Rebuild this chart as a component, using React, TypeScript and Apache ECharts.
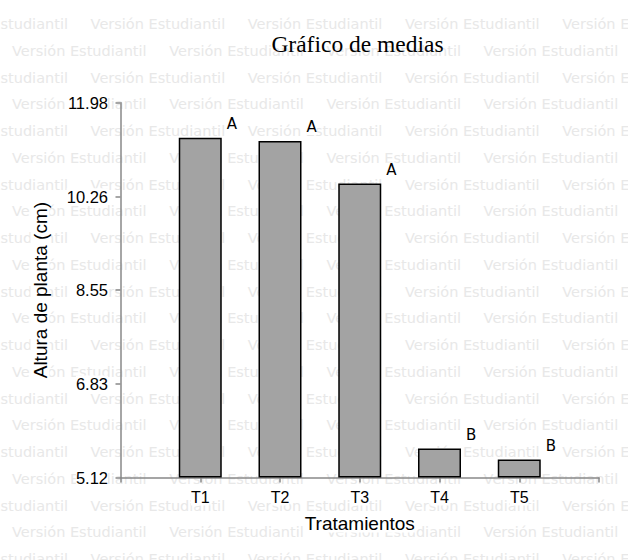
import React, { useEffect, useRef } from "react";
import * as echarts from "echarts";

const CATEGORIES = ["T1", "T2", "T3", "T4", "T5"];
const MEANS = [11.34, 11.28, 10.5, 5.65, 5.45];
const LETTERS = ["A", "A", "A", "B", "B"];
const Y_TICKS = [5.12, 6.83, 8.55, 10.26, 11.98];
const Y_MIN = 5.12;
const Y_MAX = 11.98;
const WATERMARK = "Versión Estudiantil";

function buildWatermark() {
  const items: any[] = [];
  const period = 157.2;
  for (let k = 0; k <= 20; k++) {
    const y = 24 + 26.75 * k;
    const start = k % 2 === 1 ? 12 : 12 - period / 2;
    for (let x = start - period; x < 640; x += period) {
      if (x + 140 < 0) continue;
      items.push({
        text: WATERMARK,
        left: Math.round(x * 10) / 10,
        top: Math.round((y - 8.5) * 10) / 10,
        padding: 0,
        z: -10,
        silent: true,
        textStyle: {
          color: "#e8e8e8",
          fontSize: 14.5,
          lineHeight: 17,
          fontFamily: "DejaVu Sans",
          fontWeight: "normal",
        },
      });
    }
  }
  return items;
}

export default function App() {
  const ref = useRef<HTMLDivElement>(null);
  useEffect(() => {
    document.body.style.margin = "0";
    const chart = echarts.init(ref.current!, null, { renderer: "svg" });
    const xData = ["", ...CATEGORIES, ""];
    const baseData: any[] = ["-", ...CATEGORIES.map(() => Y_MIN), "-"];
    const topData: any[] = ["-", ...MEANS.map((v) => +(v - Y_MIN).toFixed(4)), "-"];
    const sans = "Liberation Sans";
    chart.setOption({
      animation: false,
      backgroundColor: "#ffffff",
      title: [
        ...buildWatermark(),
        {
          text: "Gráfico de medias",
          left: 357.5,
          top: 32,
          textAlign: "center",
          padding: 0,
          z: 10,
          textStyle: {
            fontFamily: "Liberation Serif",
            fontSize: 23.5,
            fontWeight: "normal",
            color: "#000",
            backgroundColor: "#fff",
          },
        },
      ],
      grid: { left: 120.5, right: 29, top: 102.7, bottom: 82.5 },
      xAxis: {
        type: "category",
        data: xData,
        boundaryGap: false,
        name: "Tratamientos",
        nameLocation: "middle",
        nameGap: 36,
        nameTextStyle: {
          fontFamily: sans,
          fontSize: 19,
          color: "#000",
          backgroundColor: "#fff",
        },
        axisLine: { show: true, onZero: false, lineStyle: { color: "#888", width: 1.5 } },
        axisTick: { show: true, length: 5, lineStyle: { color: "#888", width: 1.5 } },
        axisLabel: {
          fontFamily: sans,
          fontSize: 16,
          color: "#000",
          margin: 12,
          backgroundColor: "#fff",
        },
        splitLine: { show: false },
      },
      yAxis: {
        type: "value",
        min: Y_MIN,
        max: Y_MAX,
        name: "Altura de planta (cm)",
        nameLocation: "middle",
        nameGap: 71,
        nameRotate: 90,
        nameTextStyle: {
          fontFamily: sans,
          fontSize: 19,
          color: "#000",
          backgroundColor: "#fff",
        },
        axisLine: { show: true, lineStyle: { color: "#888", width: 1.5 } },
        axisTick: {
          show: true,
          length: 5,
          customValues: Y_TICKS,
          lineStyle: { color: "#888", width: 1.5 },
        },
        axisLabel: {
          customValues: Y_TICKS,
          formatter: (v: number) => v.toFixed(2),
          fontFamily: sans,
          fontSize: 16.5,
          color: "#000",
          margin: 12.5,
          backgroundColor: "#fff",
        },
        splitLine: { show: false },
      },
      series: [
        {
          type: "bar",
          stack: "m",
          data: baseData,
          barWidth: 43,
          silent: true,
          itemStyle: { color: "rgba(0,0,0,0)", borderWidth: 0 },
        },
        {
          type: "bar",
          stack: "m",
          data: topData,
          barWidth: 43,
          itemStyle: { color: "#a3a3a3", borderColor: "#000", borderWidth: 1.5 },
          label: {
            show: true,
            position: [48, -6],
            align: "left",
            verticalAlign: "bottom",
            formatter: (p: any) => LETTERS[p.dataIndex - 1] ?? "",
            fontFamily: "DejaVu Sans",
            fontSize: 15,
            lineHeight: 15,
            color: "#000",
            backgroundColor: "#fff",
          },
        },
      ],
    });
    return () => chart.dispose();
  }, []);
  return <div ref={ref} style={{ width: 628, height: 560 }} />;
}
